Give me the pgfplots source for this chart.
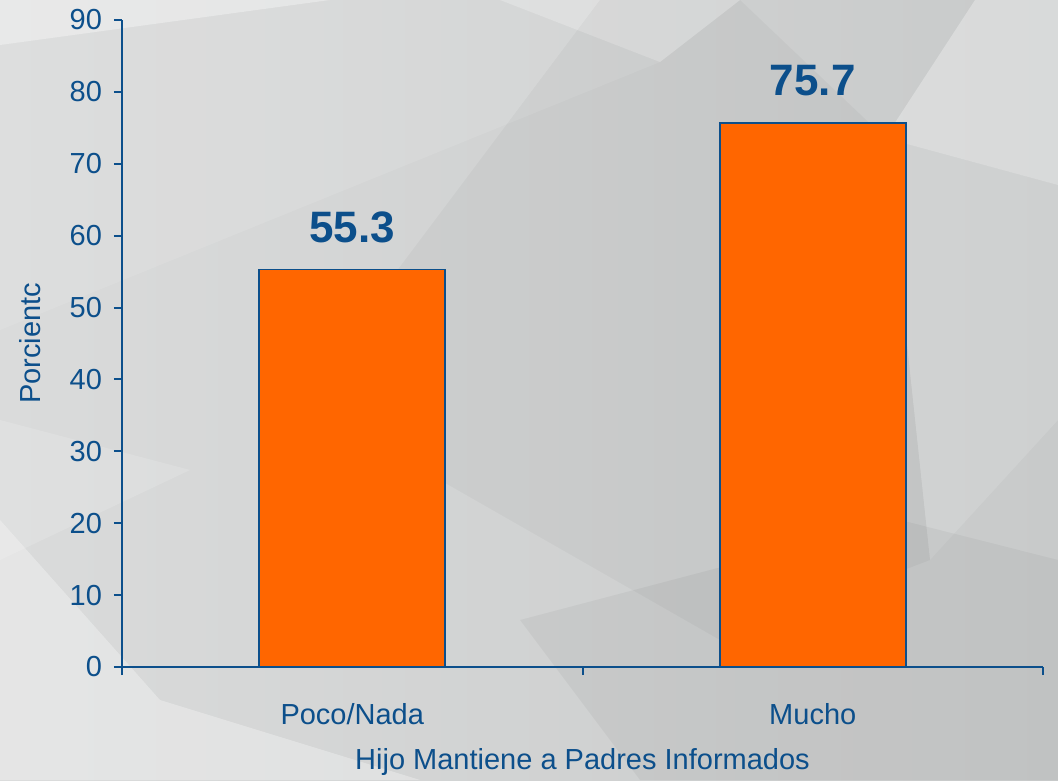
\documentclass[border=0pt]{standalone}
\usepackage{fontspec}
\setmainfont{Liberation Sans}
\usepackage{pgfplots}
\pgfplotsset{compat=1.18}
\definecolor{navy}{RGB}{12,79,139}
\definecolor{barorange}{RGB}{255,102,0}
\begin{document}
\begin{tikzpicture}
\begin{scope}[x=0.5pt,y=-0.5pt,shift={(0pt,390pt)}]
  \shade[left color={rgb,255:red,218;green,219;blue,219}, right color={rgb,255:red,200;green,202;blue,202}] (0,0) rectangle (1058,780);
  \fill[white,opacity=0.40] (0,0) -- (330,0) -- (0,45) -- cycle;
  \fill[white,opacity=0.30] (500,0) -- (740,0) -- (660,62) -- cycle;
  \fill[white,opacity=0.10] (0,45) -- (330,0) -- (500,0) -- (660,62) -- (0,330) -- cycle;
  \fill[white,opacity=0.30] (975,0) -- (1058,0) -- (1058,185) -- (885,138) -- cycle;
  \fill[white,opacity=0.12] (885,138) -- (1058,185) -- (1058,420) -- (930,560) -- cycle;
  \fill[white,opacity=0.30] (0,520) -- (160,700) -- (420,780) -- (0,780) -- cycle;
  \fill[white,opacity=0.15] (0,420) -- (190,470) -- (0,560) -- cycle;
  \fill[black,opacity=0.04] (520,620) -- (900,520) -- (1058,560) -- (1058,780) -- (640,780) -- cycle;
  \fill[black,opacity=0.03] (600,0) -- (740,0) -- (885,138) -- (930,560) -- (720,640) -- (300,400) -- cycle;
  \useasboundingbox (0,0) rectangle (1058,780);
\end{scope}
\begin{axis}[
  at={(61pt,56.5pt)}, anchor=south west,
  scale only axis, width=460.5pt, height=323.5pt,
  xmin=0, xmax=2, ymin=0, ymax=90,
  axis x line*=bottom, axis y line*=left,
  axis line style={navy, line width=1pt, -},
  every tick/.style={navy, line width=1pt},
  tick align=outside, major tick length=4pt,
  ytick={0,10,...,90},
  yticklabel style={xshift=-2.5pt},
  xtick={0,1,2}, xticklabels={,,},
  extra x ticks={0.5,1.5}, extra x tick labels={Poco/Nada,Mucho},
  extra x tick style={major tick length=0pt, xticklabel style={yshift=-14.5pt}},
  ticklabel style={font=\fontsize{14.5}{16}\selectfont, text=navy},
  /pgf/number format/assume math mode=true,
  xlabel={Hijo Mantiene a Padres Informados},
  ylabel={Porcientc},
  label style={font=\fontsize{14.5}{16}\selectfont, text=navy},
  xlabel style={at={(axis description cs:0.5,-0.1468)}, anchor=center},
  ylabel style={at={(axis description cs:-0.0999,0.5)}, anchor=center},
  clip=false,
]
\addplot[ybar, bar width=0.404, fill=barorange, draw=navy, line width=0.8pt,
  point meta=explicit symbolic,
  nodes near coords,
  nodes near coords style={font=\bfseries\fontsize{22}{24}\selectfont, text=navy, anchor=base, yshift=13.5pt},
] coordinates {(0.5,55.3) [55.3] (1.5,75.7) [75.7]};
\end{axis}
\end{tikzpicture}
\end{document}
